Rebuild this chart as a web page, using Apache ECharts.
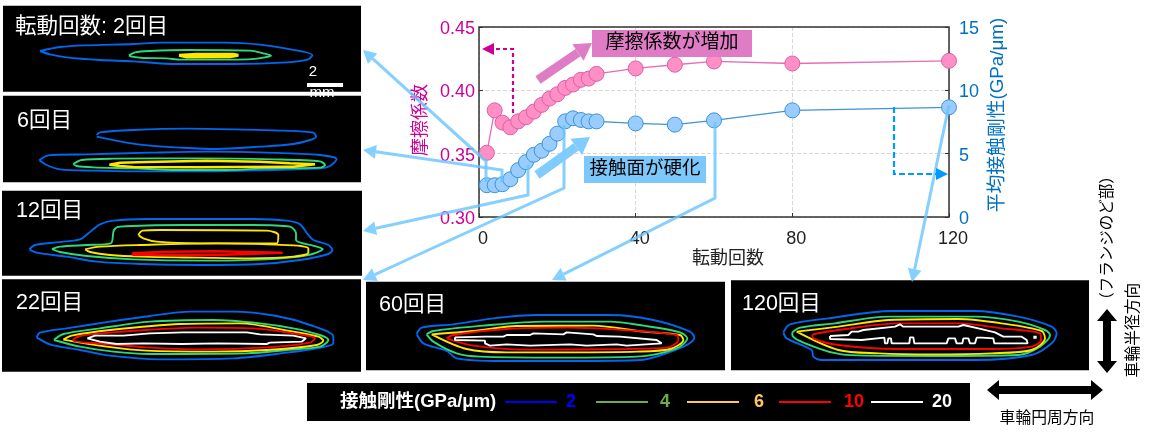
<!DOCTYPE html>
<html><head><meta charset="utf-8">
<style>html,body{margin:0;padding:0;background:#fff}#c{width:1153px;height:439px}</style>
<script src="https://cdn.jsdelivr.net/npm/echarts@6/dist/echarts.min.js"></script>
</head><body><div id="c"></div>
<script>
const FONT='"Liberation Sans","Noto Sans CJK JP",sans-serif';
const cycles=[2,4,6,8,10,12,14,16,18,20,22,24,26,28,30,40,50,60,80,120];
const friction=[0.3507,0.3842,0.3745,0.3708,0.3755,0.3787,0.3832,0.3885,0.3935,0.3969,0.4019,0.4046,0.4083,0.4093,0.4130,0.4173,0.4202,0.4228,0.4212,0.4233];
const stiffness=[2.51,2.51,2.59,2.98,3.70,4.33,4.91,5.23,5.78,6.58,7.55,7.79,7.66,7.55,7.55,7.39,7.29,7.63,8.42,8.66];

// contour traces, in panel units
const p2Blue=[[120,153],[180,141],[260,136],[400,132],[480,128],[680,128],[780,134],[860,146],[937,165],[925,178],[860,187],[700,192],[530,192],[400,184],[300,180],[200,172],[150,163],[120,153]];
const p2Green=[[387,166],[405,157],[450,153],[560,150],[750,152],[790,160],[813,167],[790,173],[745,178],[540,179],[500,175],[430,174],[395,170],[387,166]];
const p2Yellow=[[537,166],[590,163],[700,163],[715,166],[690,170],[560,171],[537,166]];
const p6BlueA=[[290,405],[300,397],[400,390],[560,386],[700,388],[850,392],[940,398],[948,410],[930,420],[880,432],[780,440],[650,447],[540,443],[450,437],[380,428],[290,410]];
const p6BlueB=[[118,481],[145,466],[260,463],[450,458],[620,455],[800,458],[960,465],[1010,478],[990,498],[960,505],[800,510],[620,514],[400,514],[280,512],[180,508],[140,495],[118,481]];
const p6Green=[[220,492],[245,480],[340,476],[600,475],[820,478],[960,484],[975,495],[960,503],[800,505],[680,510],[530,510],[400,505],[280,502],[230,498],[220,492]];
const p6Yellow=[[328,494],[360,488],[440,486],[620,482],[780,485],[870,490],[945,493],[945,498],[880,500],[860,500],[600,502],[400,501],[360,498],[328,494]];
const p12Blue=[[88,178],[105,165],[170,157],[240,148],[265,130],[300,103],[340,92],[440,87],[760,87],[860,92],[900,103],[925,135],[940,150],[985,165],[997,180],[985,192],[900,210],[780,222],[600,225],[420,222],[290,215],[200,200],[110,188],[88,178]];
const p12Green=[[156,177],[180,170],[260,165],[332,160],[342,120],[360,110],[550,105],[760,105],[870,110],[888,130],[888,150],[950,170],[968,177],[925,195],[800,208],[600,212],[400,208],[260,198],[180,186],[156,177]];
const p12YellowA=[[255,178],[300,170],[420,165],[650,160],[880,166],[925,175],[925,188],[880,200],[750,205],[600,203],[420,200],[330,195],[270,186],[255,178]];
const p12YellowB=[[415,135],[428,122],[480,120],[800,122],[835,135],[830,160],[600,160],[470,155],[430,145],[415,135]];
const p12Red=[[397,190],[500,185],[650,184],[848,188],[845,193],[650,195],[400,194],[397,190]];
const p22Blue=[[110,442],[120,428],[200,415],[330,395],[450,378],[570,365],[700,365],[830,378],[930,405],[1000,440],[1000,460],[950,475],[860,488],[700,505],[480,508],[330,497],[240,480],[150,463],[110,442]];
const p22Green=[[162,450],[190,432],[300,415],[450,395],[640,390],[780,400],[880,415],[960,435],[985,450],[960,470],[860,480],[740,490],[450,492],[340,485],[240,470],[162,450]];
const p22Yellow=[[190,449],[215,437],[330,420],[540,402],[720,400],[880,425],[955,440],[970,452],[950,465],[800,480],[640,485],[440,482],[320,470],[190,449]];
const p22Red=[[220,447],[240,438],[330,428],[440,420],[590,413],[760,415],[880,430],[945,445],[930,458],[800,472],[600,478],[440,472],[320,462],[220,452],[220,447]];
const p22White=[[262,445],[285,437],[370,437],[450,430],[550,427],[740,427],[780,433],[880,437],[918,445],[905,455],[810,458],[800,462],[650,460],[545,462],[540,457],[430,460],[350,462],[300,455],[262,445]];
const p60Blue=[[170,177],[185,158],[280,148],[400,130],[530,120],[750,120],[880,135],[990,170],[1003,188],[970,215],[840,255],[640,258],[420,258],[290,250],[260,228],[190,205],[170,177]];
const p60Green=[[200,178],[220,168],[370,152],[550,140],[750,140],[850,152],[960,172],[982,190],[950,220],[830,245],[600,248],[360,245],[290,235],[220,200],[200,178]];
const p60Yellow=[[215,178],[340,168],[470,153],[700,152],[850,170],[960,180],[970,195],[930,222],[830,230],[620,232],[440,232],[320,222],[215,178]];
const p60Red=[[260,190],[280,180],[440,162],[620,158],[790,165],[950,180],[955,195],[920,218],[800,222],[500,224],[340,212],[260,190]];
const p60White=[[285,187],[375,185],[430,185],[440,180],[510,180],[520,175],[610,178],[620,172],[625,178],[700,178],[710,183],[780,185],[890,195],[905,205],[908,210],[800,212],[770,208],[680,212],[630,208],[510,212],[440,208],[390,212],[375,205],[375,197],[285,195],[285,187]];
const p120Blue=[[175,172],[195,148],[310,130],[500,108],[750,108],[880,125],[980,155],[995,175],[980,205],[920,240],[750,255],[430,255],[290,255],[265,245],[260,225],[185,190],[175,172]];
const p120Green=[[202,172],[225,158],[330,145],[490,125],[750,125],[880,140],[960,165],[975,180],[945,215],[880,240],[620,243],[430,242],[350,238],[280,220],[202,180],[202,172]];
const p120Yellow=[[215,170],[340,155],[490,135],[700,132],[830,145],[950,168],[960,190],[920,225],[800,235],[620,238],[460,235],[340,225],[215,170]];
const p120Red=[[262,178],[340,165],[520,145],[700,145],[830,160],[945,175],[948,195],[920,215],[800,222],[520,222],[340,210],[265,190],[262,178]];
const p120White=[[315,183],[370,180],[380,170],[400,170],[415,165],[510,155],[525,148],[535,155],[700,155],[715,150],[760,160],[810,172],[835,185],[890,185],[905,195],[908,205],[830,205],[808,205],[805,190],[770,188],[755,188],[750,205],[735,205],[730,190],[715,190],[712,205],[695,205],[690,190],[670,190],[665,205],[568,205],[565,187],[555,187],[553,205],[500,205],[498,190],[490,190],[487,205],[480,205],[478,188],[410,195],[315,192],[315,183]];
const p120WhiteDot=[[925,187],[935,187]];

const C={blue:'#0068f0',green:'#2fd878',yellow:'#ffe600',red:'#ff0000',white:'#ffffff'};
const S=0.3; // smoothing for the outer contours
const panels=[
 {label:'転動回数: 2回目',lx:15,ly:26,ox:0,oy:0,x:[9,1083],y:[17,275],lines:[[p2Blue,C.blue,S],[p2Green,C.green,S],[p2Yellow,C.yellow,0,3]]},
 {label:'6回目',lx:17,ly:120,ox:0,oy:0,x:[9,1083],y:[287,547],lines:[[p6BlueA,C.blue,S],[p6BlueB,C.blue,S],[p6Green,C.green,S],[p6Yellow,C.yellow,0,2.5]]},
 {label:'12回目',lx:16,ly:210,ox:0,oy:190,x:[6,1086],y:[2,257],lines:[[p12Blue,C.blue,S],[p12Green,C.green,S],[p12YellowA,C.yellow,S],[p12YellowB,C.yellow,S],[p12Red,C.red,0,2.5]]},
 {label:'22回目',lx:16,ly:302,ox:0,oy:190,x:[6,1083],y:[268,545],lines:[[p22Blue,C.blue,S],[p22Green,C.green,S],[p22Yellow,C.yellow,S],[p22Red,C.red,S],[p22White,C.white,0]]},
 {label:'60回目',lx:379,ly:304,ox:360,oy:275,x:[18,1095],y:[20,286],lines:[[p60Blue,C.blue,S],[p60Green,C.green,S],[p60Yellow,C.yellow,S],[p60Red,C.red,S],[p60White,C.white,0]]},
 {label:'120回目',lx:742,ly:303,ox:725,oy:275,x:[18,1092],y:[16,286],lines:[[p120Blue,C.blue,S],[p120Green,C.green,S],[p120Yellow,C.yellow,S],[p120Red,C.red,S],[p120White,C.white,0],[p120WhiteDot,C.white,0,3]]}
];
const legendItems=[['2','#0000ff',505,571],['4','#70ad47',596,665],['6','#ffc858',687,759],['10','#ff0000',779,854],['20','#ffffff',871,942]];

const grids=[{left:479,right:1153-949,top:27,height:190,show:true,backgroundColor:'transparent',borderColor:'#333',borderWidth:1.5,z:2}];
const xAxes=[{type:'value',gridIndex:0,min:0,max:120,interval:40,axisLine:{show:false},
  axisTick:{inside:true,length:4,lineStyle:{color:'#333'}},
  splitLine:{show:true,lineStyle:{type:'dashed',color:'#d8d8d8'}},
  axisLabel:{color:'#222',fontSize:18,fontFamily:FONT,margin:13,padding:[0,0,0,8]},
  name:'転動回数',nameLocation:'middle',nameGap:31,nameTextStyle:{color:'#222',fontSize:18,fontFamily:FONT,padding:[2,0,0,28]}}];
const yAxes=[{type:'value',gridIndex:0,min:0.30,max:0.45,interval:0.05,axisLine:{show:false},
  axisTick:{inside:true,length:4,lineStyle:{color:'#333'}},
  splitLine:{show:true,lineStyle:{type:'dashed',color:'#d8d8d8'}},
  axisLabel:{color:'#cc0099',fontSize:18,fontFamily:FONT,margin:4,verticalAlign:'top',lineHeight:4,formatter:v=>v.toFixed(2)},
  name:'摩擦係数',nameLocation:'middle',nameGap:49,nameRotate:90,nameTextStyle:{color:'#cc0099',fontSize:18,fontFamily:FONT,padding:[2,0,0,4]}},
 {type:'value',gridIndex:0,position:'right',min:0,max:15,interval:5,axisLine:{show:false},
  axisTick:{inside:true,length:4,lineStyle:{color:'#333'}},splitLine:{show:false},
  axisLabel:{color:'#0070c0',fontSize:18,fontFamily:FONT,margin:10,verticalAlign:'top',lineHeight:4},
  name:'平均接触剛性(GPa/μm)',nameLocation:'middle',nameGap:39,nameRotate:90,nameTextStyle:{color:'#0070c0',fontSize:18.8,fontFamily:FONT,padding:[0,0,0,14]}}];
const series=[
 {type:'line',xAxisIndex:0,yAxisIndex:0,data:cycles.map((c,i)=>[c,friction[i]]),symbol:'circle',symbolSize:15,z:3,
  lineStyle:{color:'#e56cb6',width:1.3},itemStyle:{color:'#ff8fc4',borderColor:'#dd5fa8',borderWidth:1}},
 {type:'line',xAxisIndex:0,yAxisIndex:1,data:cycles.map((c,i)=>[c,stiffness[i]]),symbol:'circle',symbolSize:15,z:3,
  lineStyle:{color:'#3d94d6',width:1.3},itemStyle:{color:'#99ccff',borderColor:'#3d94d6',borderWidth:1}}
];
const hide={show:false};
panels.forEach((p,i)=>{
  const L=p.ox+p.x[0]/3,R=p.ox+p.x[1]/3,T=p.oy+p.y[0]/3,B=p.oy+p.y[1]/3;
  grids.push({left:L,width:R-L,top:T,height:B-T,show:true,backgroundColor:'#000',borderWidth:0,z:1});
  xAxes.push({type:'value',gridIndex:i+1,min:p.x[0],max:p.x[1],axisLine:hide,axisTick:hide,axisLabel:hide,splitLine:hide});
  yAxes.push({type:'value',gridIndex:i+1,min:p.y[0],max:p.y[1],inverse:true,axisLine:hide,axisTick:hide,axisLabel:hide,splitLine:hide});
  p.lines.forEach(l=>series.push({type:'line',xAxisIndex:i+1,yAxisIndex:i+2,data:l[0],showSymbol:false,symbol:'none',silent:true,
    smooth:l[2]||false,lineStyle:{color:l[1],width:l[3]||1.9},z:2}));
});

const ANN='rgba(102,196,255,0.8)';
function headPts(x0,y0,x1,y1,len,w){const a=Math.atan2(y1-y0,x1-x0),c=Math.cos(a),s=Math.sin(a);
  return [[x1,y1],[x1-len*c+w*s,y1-len*s-w*c],[x1-len*c-w*s,y1-len*s+w*c]];}
function arrow(pts,color,width,dash,len,w){
  const n=pts.length,h=headPts(pts[n-2][0],pts[n-2][1],pts[n-1][0],pts[n-1][1],len,w);
  const bx=(h[1][0]+h[2][0])/2,by=(h[1][1]+h[2][1])/2;
  const body=pts.slice(0,n-1).concat([[bx,by]]);
  return [{type:'polyline',z:50,silent:true,shape:{points:body},style:{stroke:color,lineWidth:width,fill:null,lineDash:dash||null}},
          {type:'polygon',z:50,silent:true,shape:{points:h},style:{fill:color}}];}
function txt(x,y,t,o){o=o||{};return {type:'text',z:60,silent:true,x:x,y:y,rotation:o.rot||0,
  style:{text:t,fill:o.c||'#000',font:(o.b?'bold ':'')+(o.s||18)+'px '+FONT,textAlign:o.a||'center',textVerticalAlign:'middle'}};}
function dbl(x0,y0,x1,y1){ // black double-headed arrow, thick shaft
  const v=x0===x1, t=4, hl=12, hw=10;
  const pts=v?[[x0,y0],[x0+hw,y0+hl],[x0+t,y0+hl],[x0+t,y1-hl],[x0+hw,y1-hl],[x0,y1],[x0-hw,y1-hl],[x0-t,y1-hl],[x0-t,y0+hl],[x0-hw,y0+hl]]
             :[[x0,y0],[x0+hl,y0-hw],[x0+hl,y0-t],[x1-hl,y0-t],[x1-hl,y0-hw],[x1,y0],[x1-hl,y0+hw],[x1-hl,y0+t],[x0+hl,y0+t],[x0+hl,y0+hw]];
  return {type:'polygon',z:50,silent:true,shape:{points:pts},style:{fill:'#000'}};}
const graphic=[];
panels.forEach(p=>graphic.push(txt(p.lx,p.ly+1,p.label,{c:'#fff',s:21.5,a:'left'})));
graphic.push(txt(313,72,'2',{c:'#fff',s:15}));
graphic.push({type:'rect',z:55,silent:true,shape:{x:307,y:83,width:36,height:4},style:{fill:'#fff'}});
graphic.push(txt(322,93,'mm',{c:'#fff',s:15}));
graphic.push(...arrow([[486,182],[486,161],[470,147],[363,50]],ANN,3,null,13,7));
graphic.push(...arrow([[502,182],[502,170],[363,150]],ANN,3,null,13,7));
graphic.push(...arrow([[528,165],[528,195],[400,223],[363,231]],ANN,3,null,13,7));
graphic.push(...arrow([[564,125],[564,188],[400,263],[363,280]],ANN,3,null,13,7));
graphic.push(...arrow([[715,122],[715,198],[552,280]],ANN,3,null,13,7));
graphic.push(...arrow([[949,105],[912,282]],ANN,3,null,13,7));
graphic.push({type:'rect',z:40,silent:true,shape:{x:592,y:30,width:160,height:27},style:{fill:'#e07cc5'}});
graphic.push(txt(672,43,'摩擦係数が増加',{s:19}));
graphic.push({type:'rect',z:40,silent:true,shape:{x:584,y:156,width:122,height:27},style:{fill:'#7cc8fb'}});
graphic.push(txt(645,169,'接触面が硬化',{s:18.5}));
graphic.push(...arrow([[538,80],[592,43]],'#e07cc5',9,null,17,10));
graphic.push(...arrow([[537,175],[590,137]],'#80ccff',9,null,17,10));
graphic.push(...arrow([[513,113],[513,49],[482,49]],'#cc0099',2.2,[4,3],12,6));
graphic.push(...arrow([[894,107],[894,174],[948,174]],'#0099ff',2.2,[6,3],12,6));
graphic.push({type:'rect',z:5,silent:true,shape:{x:307,y:383,width:663,height:38},style:{fill:'#000'}});
graphic.push(txt(340,402,'接触剛性(GPa/μm)',{c:'#fff',b:1,s:18.5,a:'left'}));
legendItems.forEach(l=>{
  graphic.push({type:'line',z:20,silent:true,shape:{x1:l[2],y1:402,x2:l[2]+52,y2:402},style:{stroke:l[1],lineWidth:2}});
  graphic.push(txt(l[3],402,l[0],{c:l[1],b:1,s:18}));
});
graphic.push(dbl(1107,309,1107,373));
graphic.push(dbl(987,390,1103,390));
graphic.push(txt(1047,419,'車輪円周方向',{s:15.8}));
graphic.push(txt(1134,330,'車輪半径方向',{s:15.8,rot:Math.PI/2}));
graphic.push(txt(1108,238,'（フランジのど部）',{s:15.5,rot:Math.PI/2}));

const chart=echarts.init(document.getElementById('c'),null,{renderer:'canvas'});
chart.setOption({animation:false,backgroundColor:'#fff',grid:grids,xAxis:xAxes,yAxis:yAxes,series:series,graphic:graphic});
</script></body></html>
